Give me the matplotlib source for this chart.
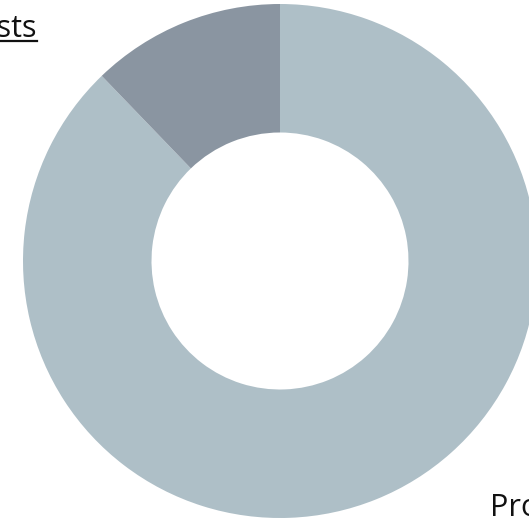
import matplotlib
matplotlib.use("Agg")
import matplotlib.pyplot as plt
from matplotlib.lines import Line2D

labels = ["Profit", "Costs"]
values = [87.8, 12.2]
colors = ["#AEBFC7", "#8A95A1"]

W, H, DPI = 529, 519, 100
fig = plt.figure(figsize=(W / DPI, H / DPI), dpi=DPI)
ax = fig.add_axes([0, 0, 1, 1])
cx, cy, R = 280, 261, 257

ax.pie(values, colors=colors, startangle=90, counterclock=False,
       radius=1.0, wedgeprops=dict(width=0.5, linewidth=0),
       center=(0, 0), frame=False)
ax.set_xlim(-cx / R, (W - cx) / R)
ax.set_ylim(-(H - cy) / R, cy / R)
ax.set_aspect("equal")
ax.axis("off")

font = ["Open Sans", "DejaVu Sans"]
# Costs label (top-left, underlined, partly beyond the figure edge)
fig.text(37 / W, 1 - 37 / H, labels[1], ha="right", va="baseline",
         fontsize=22, family=font, color="#111111")
fig.add_artist(Line2D([0, 37 / W], [1 - 41 / H, 1 - 41 / H],
                      transform=fig.transFigure, color="#111111", linewidth=1.6))
# Profit label (bottom-right, partly beyond the figure edge)
fig.text(490 / W, 1 - 516 / H, labels[0], ha="left", va="baseline",
         fontsize=22, family=font, color="#111111")

fig.savefig("out.png", dpi=DPI)
